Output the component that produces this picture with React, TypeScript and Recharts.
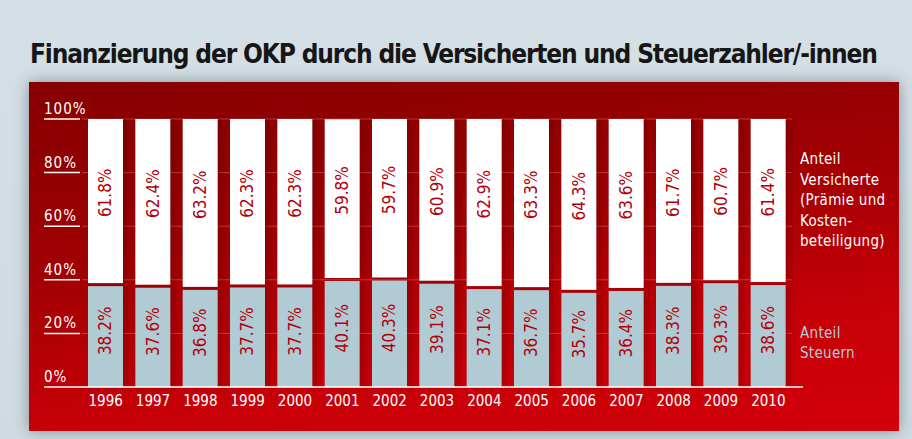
import React from "react";
import { Bar, BarChart, CartesianGrid, LabelList, XAxis, YAxis } from "recharts";

const years = ["1996", "1997", "1998", "1999", "2000", "2001", "2002", "2003", "2004", "2005", "2006", "2007", "2008", "2009", "2010"];
const anteilSteuern = [38.2, 37.6, 36.8, 37.7, 37.7, 40.1, 40.3, 39.1, 37.1, 36.7, 35.7, 36.4, 38.3, 39.3, 38.6];
const anteilVersicherte = [61.8, 62.4, 63.2, 62.3, 62.3, 59.8, 59.7, 60.9, 62.9, 63.3, 64.3, 63.6, 61.7, 60.7, 61.4];
const yTicks = [0, 20, 40, 60, 80, 100];

const FONT = "'DejaVu Sans Condensed', 'DejaVu Sans', sans-serif";
const TITLE_FONT = "'Liberation Sans Narrow', 'DejaVu Sans Condensed', sans-serif";
const LABEL_RED = "#b3000b";
const STEUERN_BLUE = "#b1cbd4";

const data = years.map((year, i) => ({
  year,
  steuern: anteilSteuern[i],
  versicherte: anteilVersicherte[i],
}));

// y tick: label sitting on a short white underline, 0% line runs across as axis
const YTick = (props: any) => {
  const { y, payload } = props;
  const lineEnd = payload.value === 0 ? 774 : 51;
  return (
    <g>
      <text x={15} y={y - 5} fill="#fff" fontSize={15} fontFamily={FONT} letterSpacing={1}>
        {payload.value}%
      </text>
      <line x1={15} x2={lineEnd} y1={y} y2={y} stroke="#fff" strokeWidth={1.5} />
    </g>
  );
};

const segmentShape = (inset: "top" | "bottom", fill: string) => (props: any) => {
  const { x, y, width, height } = props;
  const top = inset === "top" ? y + 1.5 : y;
  const h = Math.max(0, height - 1.5);
  return (
    <g>
      <rect x={x + 2} y={top} width={width + 3} height={h} fill="rgba(60,0,0,0.22)" filter="url(#barBlur)" />
      <rect x={x} y={top} width={width} height={h} fill={fill} />
    </g>
  );
};

const rotatedLabel = (offset: number) => (props: any) => {
  const { x, y, width, height, value } = props;
  const cx = x + width / 2;
  const cy = y + height / 2 + offset;
  return (
    <text
      x={cx}
      y={cy}
      transform={`rotate(-90, ${cx}, ${cy})`}
      textAnchor="middle"
      dominantBaseline="central"
      fill={LABEL_RED}
      fontSize={17}
      fontFamily={FONT}
    >
      {value.toFixed(1)}%
    </text>
  );
};

export default function App() {
  return (
    <div
      style={{
        position: "absolute",
        left: 0,
        top: 0,
        width: 912,
        height: 439,
        overflow: "hidden",
        background: "linear-gradient(180deg, #d5e0e6 0%, #cfdbe1 100%)",
        fontFamily: FONT,
      }}
    >
      <svg width={912} height={80} style={{ position: "absolute", left: 0, top: 0 }}>
        <text
          x={30}
          y={63}
          fontSize={26}
          fontWeight="bold"
          fontFamily={TITLE_FONT}
          fill="#161616"
          textLength={848}
          lengthAdjust="spacing"
        >
          Finanzierung der OKP durch die Versicherten und Steuerzahler/-innen
        </text>
      </svg>
      <div
        style={{
          position: "absolute",
          left: 29,
          top: 82,
          width: 870,
          height: 349,
          background: "linear-gradient(172deg, #860000 0%, #a00003 40%, #c80008 75%, #d2000a 100%)",
          boxShadow: "0 0 14px rgba(40,50,60,0.45)",
        }}
      >
        <BarChart width={870} height={349} data={data} margin={{ top: 37, right: 107, bottom: 14, left: 15 }} barSize={35}>
          <defs>
            <filter id="barBlur" x="-50%" y="-10%" width="200%" height="120%">
              <feGaussianBlur stdDeviation="2.5" />
            </filter>
          </defs>
          <CartesianGrid vertical={false} stroke="rgba(255,170,170,0.35)" strokeWidth={1} />
          <YAxis
            domain={[0, 100]}
            ticks={yTicks}
            width={38}
            axisLine={false}
            tickLine={false}
            tick={<YTick />}
            interval={0}
          />
          <XAxis
            dataKey="year"
            axisLine={false}
            tickLine={false}
            interval={0}
            tick={{ fill: "#fff", fontSize: 15, fontFamily: FONT }}
          />
          <Bar dataKey="steuern" stackId="a" isAnimationActive={false} shape={segmentShape("top", STEUERN_BLUE)}>
            <LabelList dataKey="steuern" content={rotatedLabel(-5)} />
          </Bar>
          <Bar dataKey="versicherte" stackId="a" isAnimationActive={false} shape={segmentShape("bottom", "#ffffff")}>
            <LabelList dataKey="versicherte" content={rotatedLabel(-9)} />
          </Bar>
        </BarChart>
        <div
          style={{
            position: "absolute",
            left: 771,
            top: 67,
            color: "#fff",
            fontSize: 15,
            lineHeight: "20.5px",
            letterSpacing: 0.3,
          }}
        >
          Anteil
          <br />
          Versicherte
          <br />
          (Prämie und
          <br />
          Kosten-
          <br />
          beteiligung)
        </div>
        <div
          style={{
            position: "absolute",
            left: 771,
            top: 241,
            color: STEUERN_BLUE,
            fontSize: 15,
            lineHeight: "20px",
            letterSpacing: 0.3,
          }}
        >
          Anteil
          <br />
          Steuern
        </div>
      </div>
    </div>
  );
}
